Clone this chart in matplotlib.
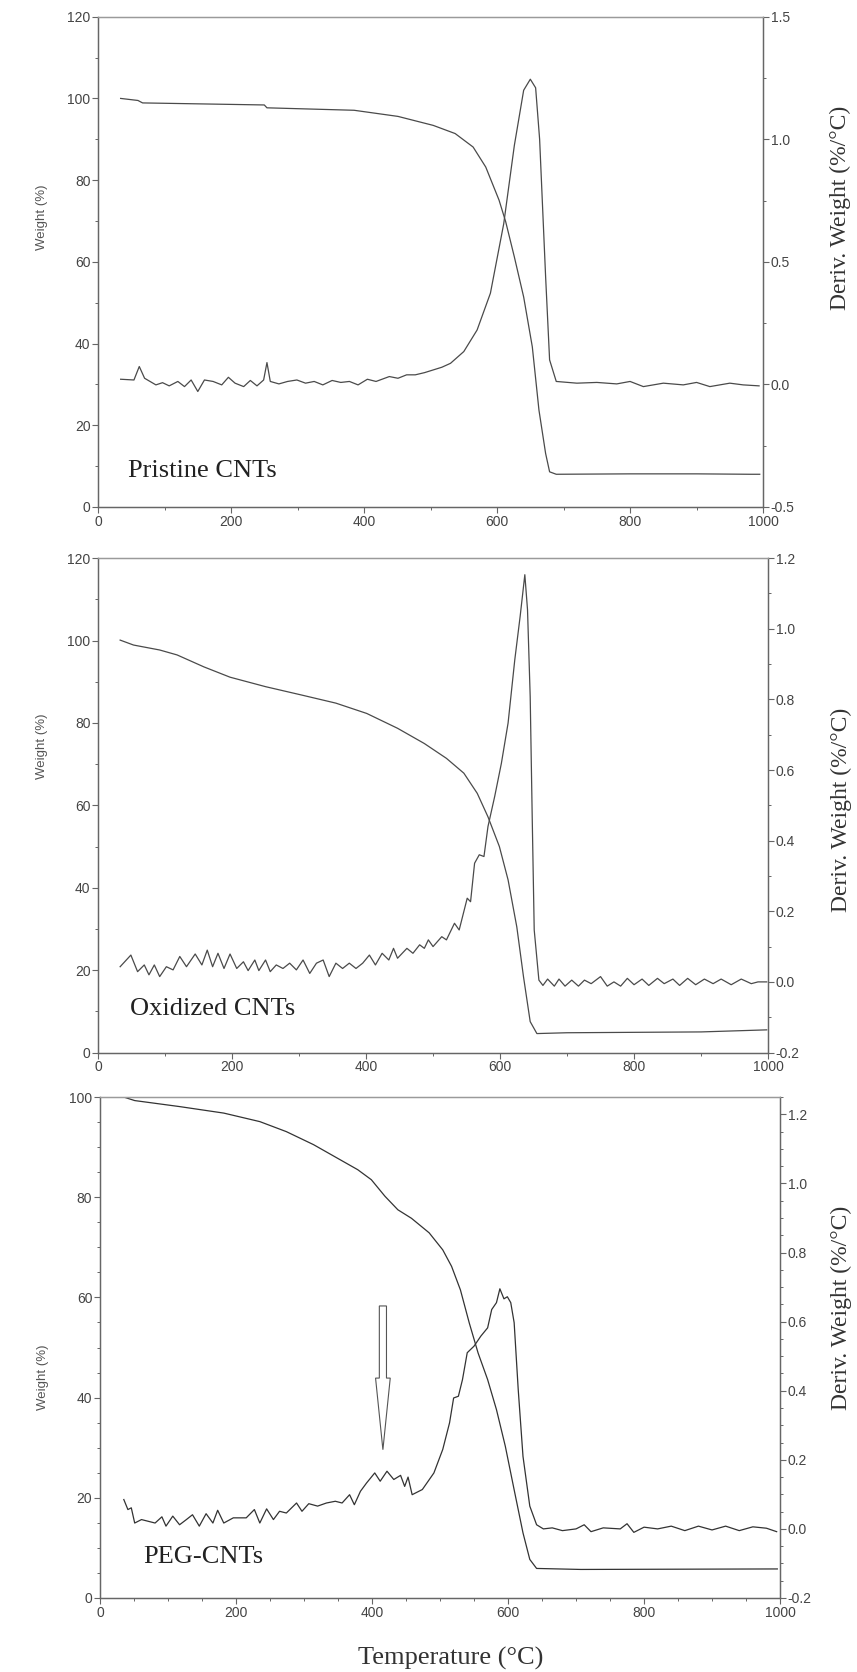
import matplotlib
matplotlib.use("Agg")
import matplotlib.pyplot as plt
from matplotlib.ticker import MultipleLocator, FormatStrFormatter
from matplotlib.patches import FancyArrow

# ---------------- data ----------------
# Panel 1: Pristine CNTs
p1_w_T = [34, 60, 67, 250, 254, 385, 451, 504, 537, 564, 583, 603, 613, 626, 640, 653, 663, 673, 679, 689, 800, 900, 981, 995]
p1_w_W = [100, 99.5, 98.9, 98.4, 97.7, 97.1, 95.6, 93.4, 91.4, 88.1, 83.2, 75.1, 69.8, 61.2, 51.4, 39.2, 23.7, 13.1, 8.6, 8.0, 8.1, 8.1, 8.0, 8.0]
p1_d_T = [34, 54, 62, 70, 87, 97, 107, 120, 130, 140, 150, 160, 173, 186, 196, 206, 219, 229, 239, 249, 254, 259,
          272, 285, 299, 312, 325, 338, 352, 365, 378, 391, 405, 418, 438, 451, 464, 477, 491, 504, 517, 530,
          550, 570, 590, 610, 626, 640, 650, 658, 664, 673, 679, 689, 720, 750, 780, 800, 820, 850, 880, 900,
          920, 950, 970, 994]
p1_d_D = [0.021, 0.018, 0.073, 0.025, -0.002, 0.007, -0.006, 0.012, -0.009, 0.018, -0.029, 0.018, 0.012, -0.002,
          0.029, 0.005, -0.009, 0.016, -0.006, 0.018, 0.089, 0.012, 0.002, 0.012, 0.018, 0.005, 0.012, -0.002,
          0.016, 0.008, 0.012, -0.002, 0.021, 0.012, 0.032, 0.025, 0.039, 0.039, 0.048, 0.059, 0.070, 0.086,
          0.134, 0.222, 0.372, 0.655, 0.975, 1.200, 1.245, 1.210, 1.000, 0.440, 0.100, 0.012, 0.005, 0.008,
          0.002, 0.012, -0.009, 0.005, -0.002, 0.008, -0.009, 0.005, -0.002, -0.006]

# Panel 2: Oxidized CNTs
p2_w_T = [33, 53, 92, 118, 158, 197, 250, 303, 355, 401, 447, 487, 520, 546, 566, 582, 599, 612, 625, 635, 645, 655, 700, 900, 998]
p2_w_W = [100.1, 98.9, 97.7, 96.5, 93.6, 91.1, 88.8, 86.8, 84.8, 82.3, 78.7, 75.0, 71.4, 67.8, 62.9, 57.2, 50.0, 41.9, 30.5, 18.4, 7.5, 4.6, 4.8, 5.0, 5.5]
p2_d_T = [33, 49, 59, 69, 76, 84, 92, 102, 112, 122, 132, 145, 155, 163, 171, 179, 188, 197, 207, 217, 224, 234,
          240, 250, 257, 266, 276, 286, 296, 306, 316, 326, 336, 345, 355, 365, 375, 385, 395, 405, 414, 424,
          434, 441, 447, 461, 470, 480, 487, 493, 500, 513, 520, 532, 539, 551, 556, 562, 569, 576, 582, 592,
          602, 612, 622, 630, 637, 641, 645, 648, 651, 658, 664, 671, 681, 688, 697, 707, 717, 726, 736, 750,
          760, 770, 780, 790, 800, 812, 822, 835, 845, 858, 868, 880, 892, 905, 918, 930, 945, 960, 975, 985, 998]
p2_d_D = [0.043, 0.076, 0.029, 0.048, 0.020, 0.048, 0.015, 0.043, 0.034, 0.072, 0.043, 0.079, 0.048, 0.090, 0.043,
          0.081, 0.038, 0.079, 0.038, 0.057, 0.032, 0.062, 0.032, 0.062, 0.029, 0.048, 0.038, 0.053, 0.034, 0.062,
          0.024, 0.053, 0.062, 0.015, 0.053, 0.038, 0.053, 0.038, 0.053, 0.076, 0.048, 0.081, 0.062, 0.095, 0.067,
          0.095, 0.081, 0.105, 0.095, 0.119, 0.100, 0.128, 0.119, 0.166, 0.147, 0.237, 0.227, 0.336, 0.360, 0.355,
          0.440, 0.525, 0.619, 0.733, 0.912, 1.035, 1.153, 1.054, 0.808, 0.468, 0.147, 0.005, -0.010, 0.008,
          -0.012, 0.008, -0.012, 0.005, -0.012, 0.005, -0.005, 0.015, -0.012, 0.000, -0.012, 0.010, -0.008, 0.008,
          -0.010, 0.010, -0.005, 0.008, -0.010, 0.010, -0.008, 0.008, -0.005, 0.008, -0.008, 0.008, -0.005, 0.000, 0.000]

# Panel 3: PEG-CNTs
p3_w_T = [35, 51, 117, 182, 235, 274, 314, 353, 379, 399, 419, 438, 458, 484, 504, 517, 530, 543, 556, 570, 583, 596, 609, 622, 632, 642, 707, 996]
p3_w_W = [100, 99.3, 98.1, 96.8, 95.1, 93.1, 90.5, 87.5, 85.5, 83.5, 80.2, 77.5, 75.8, 72.9, 69.5, 66.2, 61.5, 54.9, 48.9, 43.6, 37.6, 30.3, 21.6, 13.0, 7.7, 5.9, 5.7, 5.8]
p3_d_T = [35, 41, 46, 51, 61, 71, 81, 91, 97, 107, 117, 127, 136, 146, 156, 166, 173, 182, 196, 215, 227, 235,
          245, 255, 264, 274, 289, 297, 307, 320, 333, 346, 356, 367, 374, 383, 392, 404, 412, 422, 432, 442,
          448, 453, 459, 474, 491, 504, 514, 520, 527, 533, 540, 550, 560, 570, 576, 583, 588, 594, 599, 604,
          609, 615, 622, 632, 642, 652, 665, 680, 700, 712, 722, 740, 765, 775, 785, 800, 820, 840, 860, 880,
          900, 920, 940, 960, 980, 995]
p3_d_D = [0.085, 0.056, 0.061, 0.017, 0.027, 0.022, 0.017, 0.035, 0.008, 0.037, 0.012, 0.027, 0.041, 0.008, 0.044,
          0.017, 0.054, 0.017, 0.032, 0.032, 0.056, 0.017, 0.058, 0.027, 0.051, 0.046, 0.075, 0.051, 0.073, 0.066,
          0.075, 0.080, 0.075, 0.099, 0.070, 0.109, 0.133, 0.162, 0.138, 0.167, 0.143, 0.155, 0.123, 0.150, 0.099,
          0.114, 0.162, 0.230, 0.307, 0.379, 0.384, 0.432, 0.510, 0.529, 0.558, 0.582, 0.635, 0.655, 0.695, 0.666,
          0.672, 0.655, 0.597, 0.403, 0.210, 0.066, 0.012, 0.000, 0.003, -0.005, 0.000, 0.012, -0.008, 0.003,
          0.000, 0.015, -0.010, 0.005, 0.000, 0.008, -0.005, 0.008, -0.003, 0.008, -0.005, 0.006, 0.002, -0.008]

panel_labels = ["Pristine CNTs", "Oxidized CNTs", "PEG-CNTs"]
x_ticks = [0, 200, 400, 600, 800, 1000]

# ---------------- styling ----------------
SANS = ["Liberation Sans", "DejaVu Sans"]
SERIF = ["Liberation Serif", "DejaVu Serif"]
TICKC = "#444444"
SPINEC = "#666666"

fig = plt.figure(figsize=(8.57, 16.72), dpi=100)

panels = [
    dict(rect=[0.1144, 0.6968, 0.7760, 0.2932], wT=p1_w_T, wW=p1_w_W, dT=p1_d_T, dD=p1_d_D,
         wlim=(0, 120), wmaj=20, wmin=10, dlim=(-0.5, 1.5), dmaj=0.5, dmin=0.25, xmin=100,
         lc="#4a4a4a", lab=(45, 7.4), wl_y=0.59, dl=(1.10, 0.61)),
    dict(rect=[0.1144, 0.3705, 0.7818, 0.2957], wT=p2_w_T, wW=p2_w_W, dT=p2_d_T, dD=p2_d_D,
         wlim=(0, 120), wmaj=20, wmin=10, dlim=(-0.2, 1.2), dmaj=0.2, dmin=0.1, xmin=100,
         lc="#4a4a4a", lab=(47, 9.1), wl_y=0.62, dl=(1.093, 0.49)),
    dict(rect=[0.1167, 0.04426, 0.7935, 0.2996], wT=p3_w_T, wW=p3_w_W, dT=p3_d_T, dD=p3_d_D,
         wlim=(0, 100), wmaj=20, wmin=5, dlim=(-0.2, 1.25), dmaj=0.2, dmin=0.05, xmin=50,
         lc="#333333", lab=(64, 7.0), wl_y=0.44, dl=(1.074, 0.58)),
]

axes = []
for i, p in enumerate(panels):
    ax = fig.add_axes(p["rect"])
    ax2 = ax.twinx()
    ax.plot(p["wT"], p["wW"], color=p["lc"], lw=0.9)
    ax2.plot(p["dT"], p["dD"], color=p["lc"], lw=0.9)

    ax.set_xlim(0, 1000)
    ax.set_ylim(*p["wlim"])
    ax2.set_ylim(*p["dlim"])
    ax.set_xticks(x_ticks)
    ax.xaxis.set_minor_locator(MultipleLocator(p["xmin"]))
    ax.yaxis.set_major_locator(MultipleLocator(p["wmaj"]))
    ax.yaxis.set_minor_locator(MultipleLocator(p["wmin"]))
    ax2.yaxis.set_major_locator(MultipleLocator(p["dmaj"]))
    ax2.yaxis.set_minor_locator(MultipleLocator(p["dmin"]))
    ax2.yaxis.set_major_formatter(FormatStrFormatter("%.1f"))

    for a in (ax, ax2):
        a.tick_params(which="major", direction="out", length=4, width=0.8, color=SPINEC,
                      labelcolor=TICKC, labelsize=10, pad=1.5)
        a.tick_params(which="minor", direction="out", length=2.5, width=0.7, color=SPINEC)
        for s in a.spines.values():
            s.set_color(SPINEC)
            s.set_linewidth(0.9)
        a.spines["top"].set_color("#9a9a9a")
        for lbl in a.get_xticklabels() + a.get_yticklabels():
            lbl.set_fontfamily(SANS)
    ax.tick_params(axis="x", which="both", top=False)
    ax2.set_ylim(*p["dlim"])
    ax.set_ylim(*p["wlim"])

    ax.set_ylabel("Weight (%)", family=SANS, fontsize=9.5, color="#555555")
    ax.yaxis.set_label_coords(-0.075, p["wl_y"])
    ax2.set_ylabel("Deriv. Weight (%/°C)", family=SERIF, fontsize=17, color="#333333")
    ax2.yaxis.set_label_coords(*p["dl"])

    ax.text(p["lab"][0], p["lab"][1], panel_labels[i], family=SERIF, fontsize=19,
            color="#222222", ha="left", va="baseline")
    axes.append((ax, ax2))

# Arrow in PEG-CNTs panel (on weight axis)
arrow_T = 416
arrow_top = 58.3
arrow_tip = 29.6
arrow = FancyArrow(arrow_T, arrow_top, 0, arrow_tip - arrow_top, width=10.5, head_width=21.6,
                   head_length=14.3, length_includes_head=True, fc="white", ec="#555555", lw=0.8)
axes[2][0].add_patch(arrow)

fig.text(451 / 857, 1 - 1665 / 1672, "Temperature (°C)", family=SERIF, fontsize=19,
         color="#333333", ha="center", va="baseline")

fig.savefig("out.png", dpi=100, facecolor="white")
